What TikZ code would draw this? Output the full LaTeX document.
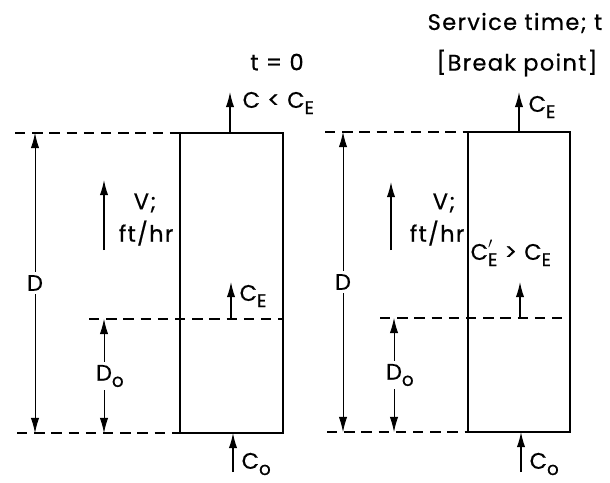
\documentclass[tikz,border=0pt]{standalone}
\usepackage{fontspec}
\setmainfont{Poppins}[LetterSpace=6, FakeBold=0.6]
\usetikzlibrary{arrows.meta}
\newcommand{\lowsub}[1]{\raisebox{-0.5ex}{\fontsize{13}{13}\selectfont #1}}

\begin{document}
\begin{tikzpicture}[
    x=0.025cm, y=-0.025cm,
    paroi/.style={line width=1.1pt},
    niveau/.style={dash pattern=on 2.6mm off 1.7mm, line width=0.8pt},
    cote/.style={{Latex[length=3.8mm,width=2.1mm]}-{Latex[length=3.8mm,width=2.1mm]},
                 line width=0.6pt},
    fleche/.style={-{Latex[length=3.8mm,width=2.1mm]}, line width=0.9pt},
    etiquette/.style={font=\fontsize{16}{19}\selectfont, inner sep=1pt},
    coupe/.style={etiquette, fill=white, inner sep=2pt}
  ]
    \useasboundingbox (0,0) rectangle (610,482);

    % Colonne gauche : t = 0
    \coordinate (gH) at (180,133); \coordinate (gB) at (283,433);
    \coordinate (gH0) at (15,133);  \coordinate (gB0) at (17,433);
    \coordinate (gM0) at (89,319);  \coordinate (gM1) at (283,319);
    \coordinate (gDh) at (35,133);  \coordinate (gDb) at (35,433);
    \coordinate (gOh) at (104,319); \coordinate (gOb) at (104,433);
    \coordinate (gVb) at (104,250); \coordinate (gVh) at (104,180);
    \coordinate (gSb) at (230,133); \coordinate (gSh) at (230,92);
    \coordinate (gEb) at (231,319); \coordinate (gEh) at (231,282);
    \coordinate (gCb) at (233,472); \coordinate (gCh) at (233,433);

    \draw[paroi] (gH) rectangle (gB);
    \draw[niveau] (gH0) -- (gH);
    \draw[niveau] (gB0) -- (gB -| gH);
    \draw[niveau] (gM0) -- (gM1);
    \draw[cote] (gDh) -- node[coupe] (gD) {D} (gDb);
    \draw[cote] (gOh) -- node[coupe] (gDo) {D\rlap{\lowsub{o}}} (gOb);
    \draw[fleche] (gVb) -- (gVh);
    \draw[fleche] (gSb) -- (gSh);
    \draw[fleche] (gEb) -- (gEh);
    \draw[fleche] (gCb) -- (gCh);

    \node[etiquette] (gV) at (145,203) {V;};
    \node[etiquette, anchor=east] (gU) at (175,233) {ft/hr};
    \node[etiquette] (gT) at (277,62) {t = 0};
    \node[etiquette, anchor=west] (gS) at (241,103) {C < C\lowsub{E}};
    \node[etiquette, anchor=west] (gE) at (238,296) {C\lowsub{E}};
    \node[etiquette, anchor=west] (gC) at (240,464) {C\lowsub{o}};

    % Colonne droite : point de percee
    \coordinate (dH) at (468,132); \coordinate (dB) at (570,432);
    \coordinate (dH0) at (325,132); \coordinate (dB0) at (327,432);
    \coordinate (dM0) at (380,318); \coordinate (dM1) at (570,318);
    \coordinate (dDh) at (343,132); \coordinate (dDb) at (343,432);
    \coordinate (dOh) at (394,318); \coordinate (dOb) at (394,432);
    \coordinate (dVb) at (391,250); \coordinate (dVh) at (391,182);
    \coordinate (dSb) at (519,132); \coordinate (dSh) at (519,92);
    \coordinate (dEb) at (520,318); \coordinate (dEh) at (520,282);
    \coordinate (dCb) at (521,472); \coordinate (dCh) at (521,432);

    \draw[paroi] (dH) rectangle (dB);
    \draw[niveau] (dH0) -- (dH);
    \draw[niveau] (dB0) -- (dB -| dH);
    \draw[niveau] (dM0) -- (dM1);
    \draw[cote] (dDh) -- node[coupe] (dD) {D} (dDb);
    \draw[cote] (dOh) -- node[coupe] (dDo) {D\rlap{\lowsub{o}}} (dOb);
    \draw[fleche] (dVb) -- (dVh);
    \draw[fleche] (dSb) -- (dSh);
    \draw[fleche] (dEb) -- (dEh);
    \draw[fleche] (dCb) -- (dCh);

    \node[etiquette] (dV) at (444,203) {V;};
    \node[etiquette, anchor=east] (dU) at (466,233) {ft/hr};
    \node[etiquette, anchor=west] (dTemps) at (426,23) {Service time; t};
    \node[etiquette] (dP) at (517,63) {[Break point]};
    \node[etiquette, anchor=west] (dS) at (527,107) {C\lowsub{E}};
    \node[etiquette, anchor=west] (dE) at (469,253)
      {C\rlap{\raisebox{0.2ex}{$'$}}\lowsub{E} > C\lowsub{E}};
    \node[etiquette, anchor=west] (dC) at (528,464) {C\lowsub{o}};
\end{tikzpicture}
\end{document}
